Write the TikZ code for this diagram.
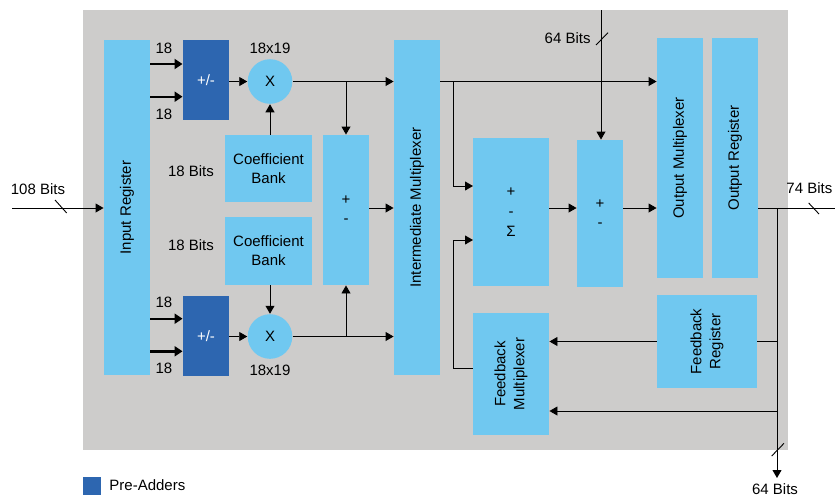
\documentclass[tikz,border=0pt]{standalone}
\usepackage{fontspec}
\setmainfont{Liberation Sans}
\usetikzlibrary{arrows.meta}

\definecolor{bgray}{HTML}{CDCCCB}
\definecolor{lblue}{HTML}{70C8F0}
\definecolor{dblue}{HTML}{2D66B0}

\tikzset{
	blk/.style={fill=lblue, inner sep=0pt, align=center},
	vblk/.style={blk, rotate=90},
	preadd/.style={fill=dblue, text=white, inner sep=0pt, minimum width=46pt, minimum height=80pt},
	multnode/.style={circle, fill=lblue, inner sep=0pt, minimum size=44.6pt},
	lbl/.style={inner sep=0pt},
	busin/.style={line width=2.4pt, -{Triangle[length=8pt,width=10pt]}},
	>={Triangle[length=8pt,width=9pt]}
}

\begin{document}
\begin{tikzpicture}[x=1pt, y=-1pt, line width=0.9pt, font=\fontsize{15}{19}\selectfont]
	\useasboundingbox (0,0) rectangle (835,496);
	\fill[bgray] (83,10) rectangle (788,450);
	
	% blocks (rotated ones: north = left, south = right, east = top, west = bottom)
	\node[vblk, minimum width=335pt, minimum height=46pt] (inreg) at (127,207.5) {Input Register};
	\node[preadd] (padtop) at (206,80) {+/-};
	\node[preadd] (padbot) at (206,336) {+/-};
	\node[multnode] (multop) at (270,81.5) {X};
	\node[multnode] (mulbot) at (270,336.5) {X};
	\node[blk, minimum width=87pt, minimum height=67pt] (coeftop) at (268.5,168.5) {Coefficient\\Bank};
	\node[blk, minimum width=87pt, minimum height=68pt] (coefbot) at (268.5,251) {Coefficient\\Bank};
	\node[blk, minimum width=46pt, minimum height=150pt] (addl) at (346,210) {+\\-};
	\node[vblk, minimum width=335pt, minimum height=46pt] (imux) at (417,207.5) {Intermediate Multiplexer};
	\node[blk, minimum width=76pt, minimum height=148pt, font=\fontsize{15}{20}\selectfont] (sigma) at (511,212) {+\\-\\Σ};
	\node[blk, minimum width=46pt, minimum height=147pt] (addr) at (600,213.5) {+\\-};
	\node[vblk, minimum width=240pt, minimum height=46pt] (omux) at (680,158) {Output Multiplexer};
	\node[vblk, minimum width=240pt, minimum height=46pt] (oreg) at (735,158) {Output Register};
	\node[vblk, minimum width=93pt, minimum height=100pt] (fbreg) at (707,341.5) {Feedback\\Register};
	\node[vblk, minimum width=122pt, minimum height=76pt] (fbmux) at (511,374) {Feedback\\Multiplexer};
	
	% labels
	\node[lbl] (l18a) at (164,48) {18};
	\node[lbl] (l18b) at (164,114) {18};
	\node[lbl] (l18c) at (164,302) {18};
	\node[lbl] (l18d) at (164,368) {18};
	\node[lbl] (lmtop) at (270,48) {18x19};
	\node[lbl] (lmbot) at (270,370) {18x19};
	\node[lbl] (lcftop) at (191,171) {18 Bits};
	\node[lbl] (lcfbot) at (191,245) {18 Bits};
	
	% input side
	\coordinate (inL) at (12,208);
	\node[lbl] (lin) at (38,189) {108 Bits};
	\draw[->] (inL) -- (inL -| inreg.north);
	\draw (55,200) -- (66.7,213);
	
	\coordinate (in1) at (150,64);
	\coordinate (in2) at (150,96.7);
	\coordinate (in3) at (150,318.7);
	\coordinate (in4) at (150,351.3);
	\draw[busin] (in1) -- (in1 -| padtop.west);
	\draw[busin] (in2) -- (in2 -| padtop.west);
	\draw[busin] (in3) -- (in3 -| padbot.west);
	\draw[busin] (in4) -- (in4 -| padbot.west);
	
	% multipliers
	\draw[->] (padtop.east |- multop) -- (multop.west);
	\draw[->] (padbot.east |- mulbot) -- (mulbot.west);
	\draw[->] (coeftop.north -| multop) -- (multop.south);
	\draw[->] (coefbot.south -| mulbot) -- (mulbot.north);
	\draw[->] (multop.east) -- (multop -| imux.north);
	\draw[->] (mulbot.east) -- (mulbot -| imux.north);
	\draw[->] (multop -| addl) -- (addl.north);
	\draw[->] (mulbot -| addl) -- (addl.south);
	\draw[->] (addl.east |- inL) -- (imux.north |- inL);
	
	% accumulator
	\coordinate (bi) at (453,81.5);
	\coordinate (sg1) at (473,186);
	\coordinate (sg2) at (473,240);
	\draw[->] (imux.south |- multop) -- (multop -| omux.north);
	\draw[->] (bi) |- (sg1);
	\draw[->] ([yshift=6pt]fbmux.north) -| (bi |- sg2) -- (sg2);
	\draw[->] (sigma.east |- inL) -- (addr.west |- inL);
	\draw[->] (addr.east |- inL) -- (omux.north |- inL);
	
	\coordinate (topin) at (601,10);
	\draw[->] (topin) -- (topin |- addr.north);
	\draw (596,45) -- (608,32.7);
	\node[lbl, anchor=east] (ltop) at (591,38) {64 Bits};
	
	% output and feedback
	\coordinate (outR) at (835,208);
	\coordinate (vx) at (777,208);
	\coordinate (outB) at (777,478);
	\coordinate (fb2) at (777,411);
	\draw (oreg.south |- outR) -- (outR);
	\draw (808.7,203) -- (819,214);
	\node[lbl, anchor=west] (lout) at (786,188) {74 Bits};
	\draw[->] (vx) -- (outB);
	\draw (771.7,456) -- (784,443.3);
	\node[lbl] (lbot) at (775,489) {64 Bits};
	\draw (vx |- fbreg) -- (fbreg.south);
	\draw[->] (fbreg.north) -- (fbreg.north -| fbmux.south);
	\draw[->] (fb2) -- (fb2 -| fbmux.south);
	
	% legend
	\node[fill=dblue, minimum size=18pt, inner sep=0pt] (legbox) at (92,486) {};
	\node[lbl, anchor=west] (legtxt) at (109,485) {Pre-Adders};
\end{tikzpicture}
\end{document}
